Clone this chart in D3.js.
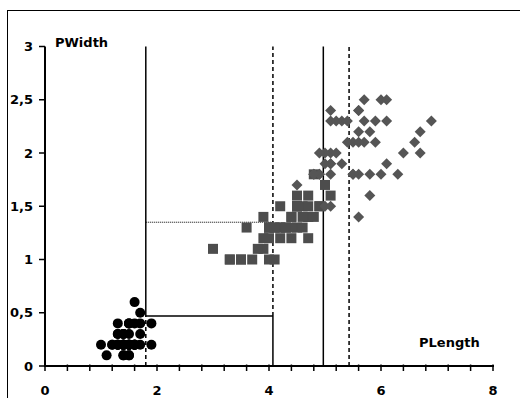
<!DOCTYPE html>
<html>
<head>
<meta charset="utf-8">
<script src="https://cdn.jsdelivr.net/npm/d3@7"></script>
<style>
  body { margin: 0; background: #fff; }
  svg { display: block; font-family: "DejaVu Sans", sans-serif; }
  .tick-label { font-size: 13px; font-weight: bold; fill: #000; }
  .axis-title { font-size: 13px; font-weight: bold; fill: #000; }
</style>
</head>
<body>
<div id="chart"></div>
<script>
// petal length / petal width per species
const setosa = [
  [1.4,0.2],[1.4,0.2],[1.3,0.2],[1.5,0.2],[1.4,0.2],[1.7,0.4],[1.4,0.3],[1.5,0.2],[1.4,0.2],[1.5,0.1],
  [1.5,0.2],[1.6,0.2],[1.4,0.1],[1.1,0.1],[1.2,0.2],[1.5,0.4],[1.3,0.4],[1.4,0.3],[1.7,0.3],[1.5,0.3],
  [1.7,0.2],[1.5,0.4],[1.0,0.2],[1.7,0.5],[1.9,0.2],[1.6,0.2],[1.6,0.4],[1.5,0.2],[1.4,0.2],[1.6,0.2],
  [1.6,0.2],[1.5,0.4],[1.5,0.1],[1.4,0.2],[1.5,0.2],[1.2,0.2],[1.3,0.2],[1.4,0.1],[1.3,0.2],[1.5,0.2],
  [1.3,0.3],[1.3,0.3],[1.3,0.2],[1.6,0.6],[1.9,0.4],[1.4,0.3],[1.6,0.2],[1.4,0.2],[1.5,0.2],[1.4,0.2]
];
const versicolor = [
  [4.7,1.4],[4.5,1.5],[4.9,1.5],[4.0,1.3],[4.6,1.5],[4.5,1.3],[4.7,1.6],[3.3,1.0],[4.6,1.3],[3.9,1.4],
  [3.5,1.0],[4.2,1.5],[4.0,1.0],[4.7,1.4],[3.6,1.3],[4.4,1.4],[4.5,1.5],[4.1,1.0],[4.5,1.5],[3.9,1.1],
  [4.8,1.8],[4.0,1.3],[4.9,1.5],[4.7,1.2],[4.3,1.3],[4.4,1.4],[4.8,1.4],[5.0,1.7],[4.5,1.5],[3.5,1.0],
  [3.8,1.1],[3.7,1.0],[3.9,1.2],[5.1,1.6],[4.5,1.5],[4.5,1.6],[4.7,1.5],[4.4,1.3],[4.1,1.3],[4.0,1.3],
  [4.4,1.2],[4.6,1.4],[4.0,1.2],[3.3,1.0],[4.2,1.3],[4.2,1.2],[4.2,1.3],[4.3,1.3],[3.0,1.1],[4.1,1.3]
];
const virginica = [
  [6.0,2.5],[5.1,1.9],[5.9,2.1],[5.6,1.8],[5.8,2.2],[6.6,2.1],[4.5,1.7],[6.3,1.8],[5.8,1.8],[6.1,2.5],
  [5.1,2.0],[5.3,1.9],[5.5,2.1],[5.0,2.0],[5.1,2.4],[5.3,2.3],[5.5,1.8],[6.7,2.2],[6.9,2.3],[5.0,1.5],
  [5.7,2.3],[4.9,2.0],[6.7,2.0],[4.9,1.8],[5.7,2.1],[6.0,1.8],[4.8,1.8],[4.9,1.8],[5.6,2.1],[5.8,1.6],
  [6.1,1.9],[6.4,2.0],[5.6,2.2],[5.1,1.5],[5.6,1.4],[6.1,2.3],[5.6,2.4],[5.5,1.8],[4.8,1.8],[5.4,2.1],
  [5.6,2.4],[5.1,2.3],[5.1,1.9],[5.9,2.3],[5.7,2.5],[5.2,2.3],[5.0,1.9],[5.2,2.0],[5.4,2.3],[5.1,1.8]
];

const xTicks = [0, 2, 4, 6, 8];
const xMinorTicks = d3.range(0, 8.01, 0.4);
const yTicks = [0, 0.5, 1, 1.5, 2, 2.5, 3];
const yTickLabels = ["0", "0,5", "1", "1,5", "2", "2,5", "3"];

// split lines: [x1, y1, x2, y2, style]
const splits = [
  [1.8, 0.47, 1.8, 3, "solid"],
  [1.8, 0, 1.8, 0.47, "dash"],
  [1.8, 0.47, 4.07, 0.47, "solid"],
  [4.07, 0, 4.07, 0.47, "solid"],
  [4.07, 0.47, 4.07, 3, "dash"],
  [1.8, 1.35, 4.07, 1.35, "dot"],
  [4.97, 0, 4.97, 3, "solid"],
  [5.43, 0, 5.43, 3, "dash"]
];

const width = 520, height = 398;

const svg = d3.select("#chart").append("svg")
  .attr("width", width)
  .attr("height", height);

// outer chart frame (only top and left visible)
svg.append("rect")
  .attr("x", 7.5).attr("y", 10.5)
  .attr("width", 540).attr("height", 420)
  .attr("fill", "none")
  .attr("stroke", "#000")
  .attr("stroke-width", 1);

const x = d3.scaleLinear().domain([0, 8]).range([45, 493]);
const y = d3.scaleLinear().domain([0, 3]).range([366, 46.5]);

// --- split lines ---
const dashFor = { solid: null, dash: "4,3", dot: "1,1" };
svg.append("g")
  .selectAll("line")
  .data(splits)
  .enter().append("line")
  .attr("x1", d => x(d[0])).attr("y1", d => y(d[1]))
  .attr("x2", d => x(d[2])).attr("y2", d => y(d[3]))
  .attr("stroke", "#000")
  .attr("stroke-width", d => d[4] === "dot" ? 1 : 1.5)
  .attr("stroke-dasharray", d => dashFor[d[4]]);

// --- points ---
svg.append("g")
  .selectAll("circle")
  .data(setosa)
  .enter().append("circle")
  .attr("cx", d => x(d[0]))
  .attr("cy", d => y(d[1]))
  .attr("r", 5)
  .attr("fill", "#000");

svg.append("g")
  .selectAll("rect")
  .data(versicolor)
  .enter().append("rect")
  .attr("x", d => x(d[0]) - 5)
  .attr("y", d => y(d[1]) - 5)
  .attr("width", 10)
  .attr("height", 10)
  .attr("fill", "#4d4d4d");

svg.append("g")
  .selectAll("path")
  .data(virginica)
  .enter().append("path")
  .attr("transform", d => `translate(${x(d[0])},${y(d[1])})`)
  .attr("d", "M0,-5.5L5.5,0L0,5.5L-5.5,0Z")
  .attr("fill", "#555");

// --- axes ---
const yAxis = svg.append("g").attr("transform", `translate(${x(0)},0)`);
yAxis.append("line")
  .attr("y1", y(0) + 1).attr("y2", y(3))
  .attr("stroke", "#000").attr("stroke-width", 2);
yAxis.selectAll(".yt")
  .data(yTicks)
  .enter().append("line")
  .attr("x1", -6).attr("x2", 0)
  .attr("y1", d => y(d)).attr("y2", d => y(d))
  .attr("stroke", "#000").attr("stroke-width", 1.5);
yAxis.selectAll("text")
  .data(yTicks)
  .enter().append("text")
  .attr("class", "tick-label")
  .attr("x", -12)
  .attr("y", d => y(d))
  .attr("dy", "0.36em")
  .attr("text-anchor", "end")
  .text((d, i) => yTickLabels[i]);

const xAxis = svg.append("g").attr("transform", `translate(0,${y(0)})`);
xAxis.append("line")
  .attr("x1", x(0)).attr("x2", x(8) + 1)
  .attr("stroke", "#000").attr("stroke-width", 2);
xAxis.selectAll(".xt")
  .data(xMinorTicks)
  .enter().append("line")
  .attr("x1", d => x(d)).attr("x2", d => x(d))
  .attr("y1", -1.5).attr("y2", 5)
  .attr("stroke", "#000").attr("stroke-width", 1.5);
xAxis.selectAll("text")
  .data(xTicks)
  .enter().append("text")
  .attr("class", "tick-label")
  .attr("x", d => x(d))
  .attr("y", 29)
  .attr("text-anchor", "middle")
  .text(d => d);

// --- axis titles ---
svg.append("text").attr("class", "axis-title")
  .attr("x", 55).attr("y", 47).text("PWidth");
svg.append("text").attr("class", "axis-title")
  .attr("x", 419).attr("y", 347).text("PLength");
</script>
</body>
</html>
